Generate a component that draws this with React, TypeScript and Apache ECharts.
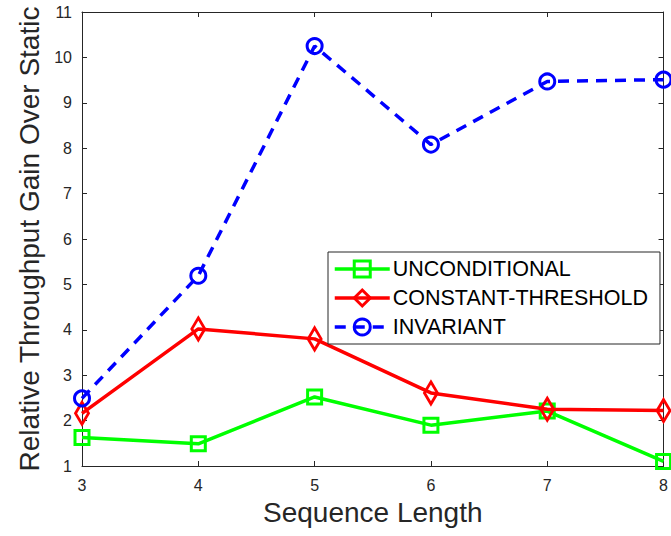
import React, { useEffect, useRef } from "react";
import * as echarts from "echarts";

const seqLength = [3, 4, 5, 6, 7, 8];
const unconditional = [1.63, 1.49, 2.52, 1.9, 2.21, 1.1];
const constantThreshold = [2.16, 4.02, 3.8, 2.61, 2.25, 2.22];
const invariant = [2.49, 5.19, 10.25, 8.08, 9.47, 9.51];

const FONT = "'Liberation Sans', Arial, sans-serif";
const AX = "#262626";

export default function App() {
  const ref = useRef<HTMLDivElement>(null);
  useEffect(() => {
    const chart = echarts.init(ref.current!, null, { renderer: "svg" });
    const pts = (ys: number[]) => seqLength.map((x, i) => [x, ys[i]]);
    const axisCommon = {
      type: "value" as const,
      axisLine: { show: true, lineStyle: { color: AX, width: 1 } },
      axisTick: { show: true, inside: true, length: 5, lineStyle: { color: AX } },
      splitLine: { show: false },
    };
    chart.setOption({
      animation: false,
      backgroundColor: "#fff",
      textStyle: { fontFamily: FONT },
      grid: { left: 82, right: 6, top: 12, bottom: 70, containLabel: false },
      legend: {
        orient: "vertical",
        left: 328,
        top: 252,
        backgroundColor: "#fff",
        borderColor: AX,
        borderWidth: 1,
        padding: [6, 12, 6, 5],
        itemWidth: 55,
        itemHeight: 20,
        itemGap: 7,
        lineStyle: { width: 3.5 },
        itemStyle: { borderWidth: 3 },
        textStyle: { fontFamily: FONT, fontSize: 21.5, color: "#000", padding: [0, 0, 0, -2] },
        data: ["UNCONDITIONAL", "CONSTANT-THRESHOLD", "INVARIANT"],
      },
      xAxis: [
        {
          ...axisCommon,
          min: 3,
          max: 8,
          interval: 1,
          position: "bottom",
          axisLabel: { color: AX, fontSize: 16, fontFamily: FONT, margin: 11 },
          name: "Sequence Length",
          nameLocation: "middle",
          nameGap: 32,
          nameTextStyle: { color: AX, fontSize: 28, fontFamily: FONT },
        },
        {
          ...axisCommon,
          min: 3,
          max: 8,
          interval: 1,
          position: "top",
          axisLabel: { show: false },
        },
      ],
      yAxis: [
        {
          ...axisCommon,
          min: 1,
          max: 11,
          interval: 1,
          position: "left",
          axisLabel: { color: AX, fontSize: 16, fontFamily: FONT, margin: 10 },
          name: "Relative Throughput Gain Over Static",
          nameLocation: "middle",
          nameGap: 36,
          nameTextStyle: { color: AX, fontSize: 28, fontFamily: FONT },
        },
        {
          ...axisCommon,
          min: 1,
          max: 11,
          interval: 1,
          position: "right",
          axisLabel: { show: false },
        },
      ],
      series: [
        {
          name: "UNCONDITIONAL",
          type: "line",
          data: pts(unconditional),
          symbol: "rect",
          symbolSize: 14,
          lineStyle: { color: "#00ff00", width: 3.5 },
          itemStyle: { color: "rgba(255,255,255,0)", borderColor: "#00ff00", borderWidth: 3 },
          z: 2,
        },
        {
          name: "CONSTANT-THRESHOLD",
          type: "line",
          data: pts(constantThreshold),
          symbol: "diamond",
          symbolSize: [13, 22],
          lineStyle: { color: "#ff0000", width: 3.5 },
          itemStyle: { color: "rgba(255,255,255,0)", borderColor: "#ff0000", borderWidth: 3 },
          z: 3,
        },
        {
          name: "INVARIANT",
          type: "line",
          data: pts(invariant),
          symbol: "circle",
          symbolSize: 15,
          lineStyle: { color: "#0000ff", width: 3.5, type: [11, 8] },
          itemStyle: { color: "rgba(255,255,255,0)", borderColor: "#0000ff", borderWidth: 3 },
          z: 4,
        },
      ],
    });
    return () => chart.dispose();
  }, []);
  return <div ref={ref} style={{ width: 671, height: 536, position: "absolute", left: 0, top: 0 }} />;
}
